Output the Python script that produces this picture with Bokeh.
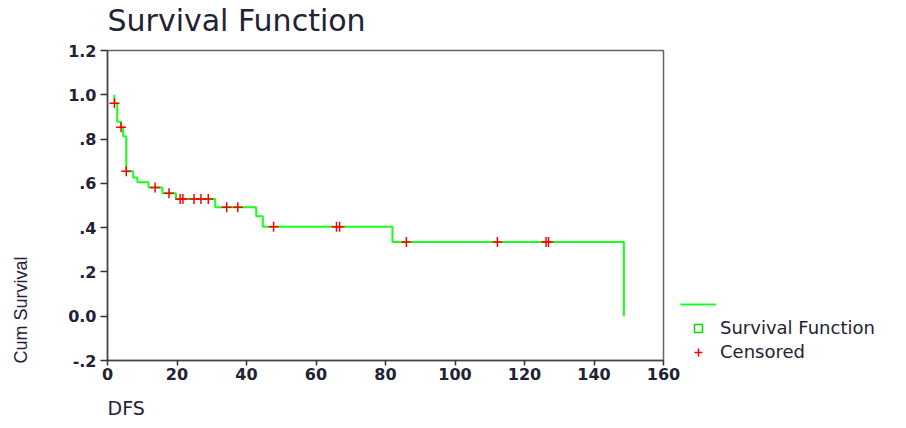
from bokeh.plotting import figure
from bokeh.models import (Range1d, FixedTicker, Title, Legend, LegendItem,
                          ColumnDataSource)
from bokeh.embed import file_html
from bokeh.resources import INLINE

# ---- data ----
km_time = [2.0, 2.0, 2.8, 3.9, 4.5, 5.4, 7.4, 8.6, 11.8, 15.8, 19.7, 31.0,
           42.8, 44.7, 82.0, 148.6]
km_surv = [1.0, 0.962, 0.878, 0.853, 0.813, 0.655, 0.627, 0.605, 0.581,
           0.555, 0.529, 0.492, 0.452, 0.404, 0.335, 0.0]
cens_time = [2.0, 3.9, 5.4, 13.7, 17.7, 20.9, 21.7, 24.9, 26.9, 29.0, 34.3,
             37.5, 47.8, 65.9, 66.8, 86.0, 112.2, 126.2, 126.9]
cens_surv = [0.962, 0.853, 0.655, 0.581, 0.555, 0.529, 0.529, 0.529, 0.529,
             0.529, 0.492, 0.492, 0.404, 0.404, 0.404, 0.335, 0.335, 0.335,
             0.335]
x_ticks = [0, 20, 40, 60, 80, 100, 120, 140, 160]
y_ticks = [-0.2, 0.0, 0.2, 0.4, 0.6, 0.8, 1.0, 1.2]
y_tick_labels = ["-.2", "0.0", ".2", ".4", ".6", ".8", "1.0", "1.2"]

title_text = "Survival Function"
x_label = "DFS"
y_label = "Cum Survival"
series_name = "Survival Function"
censor_name = "Censored"

GREEN = "#1aff1a"
RED = "#ff0000"
TXT = "#222233"

p = figure(frame_width=556, frame_height=310, output_backend="svg",
           toolbar_location=None, title_location=None,
           x_range=Range1d(0, 160), y_range=Range1d(-0.2, 1.2),
           min_border_left=107, min_border_right=237, min_border_top=50,
           min_border_bottom=64)
p.background_fill_color = "white"
p.border_fill_color = "white"
p.xgrid.visible = False
p.ygrid.visible = False
p.outline_line_color = "#666666"
p.outline_line_width = 1.5

km_src = ColumnDataSource(dict(t=km_time, s=km_surv))
step_r = p.step("t", "s", source=km_src, mode="after", line_color=GREEN,
                line_width=2)
cens_src = ColumnDataSource(dict(t=cens_time, s=cens_surv))
cens_r = p.scatter("t", "s", source=cens_src, marker="cross", size=10,
                   line_color=RED, line_width=1.5)
# legend proxy: zero-size markers (invisible in the plot, drawn in legend)
sq_r = p.scatter("t", "s", source=km_src, marker="square", size=0,
                 fill_color=None, line_color="#00dd00", line_width=1.5)

for ax in (p.xaxis[0], p.yaxis[0]):
    ax.axis_line_color = "#444444"
    ax.axis_line_width = 1.5
    ax.major_tick_line_color = "#333333"
    ax.major_tick_line_width = 1.5
    ax.major_tick_in = 0
    ax.minor_tick_line_color = None
    ax.major_label_text_font = "DejaVu Sans"
    ax.major_label_text_font_style = "bold"
    ax.major_label_text_font_size = "16px"
    ax.major_label_text_color = TXT

p.xaxis.ticker = FixedTicker(ticks=x_ticks)
p.xaxis.major_tick_out = 5
p.xaxis.major_label_standoff = 2
p.yaxis.ticker = FixedTicker(ticks=y_ticks)
p.yaxis.major_label_overrides = {t: l for t, l in zip(y_ticks, y_tick_labels)}
p.yaxis.major_tick_out = 7
p.yaxis.major_label_standoff = 4


def spacer(gap):
    return Title(text=" ", text_font_size="1px", standoff=gap)


# title above the frame (spacer first = nearest the frame)
p.add_layout(spacer(10), "above")
p.add_layout(Title(text=title_text, align="left", text_font="DejaVu Sans",
                   text_font_size="30px", text_font_style="normal",
                   text_color=TXT, standoff=0), "above")
# x label below the axis
p.add_layout(spacer(9), "below")
p.add_layout(Title(text=x_label, align="left", text_font="DejaVu Sans",
                   text_font_size="19px", text_font_style="normal",
                   text_color=TXT, standoff=0), "below")
# y label at the left, aligned to the bottom of the axis
p.add_layout(spacer(32), "left")
p.add_layout(Title(text=y_label, align="left", offset=-3,
                   text_font="Liberation Sans", text_font_size="18px",
                   text_font_style="normal", text_color=TXT, standoff=0),
             "left")

legend = Legend(items=[LegendItem(label=" ", renderers=[step_r]),
                       LegendItem(label=series_name, renderers=[sq_r]),
                       LegendItem(label=censor_name, renderers=[cens_r])],
                location=(17, -2), glyph_width=36, glyph_height=20,
                label_height=20, spacing=3, label_standoff=4, padding=0,
                margin=0, border_line_color=None, background_fill_alpha=0,
                label_text_font="DejaVu Sans", label_text_font_size="18px",
                label_text_color=TXT)
p.add_layout(legend, "right")

open("out.html", "w").write(file_html(p, INLINE))
